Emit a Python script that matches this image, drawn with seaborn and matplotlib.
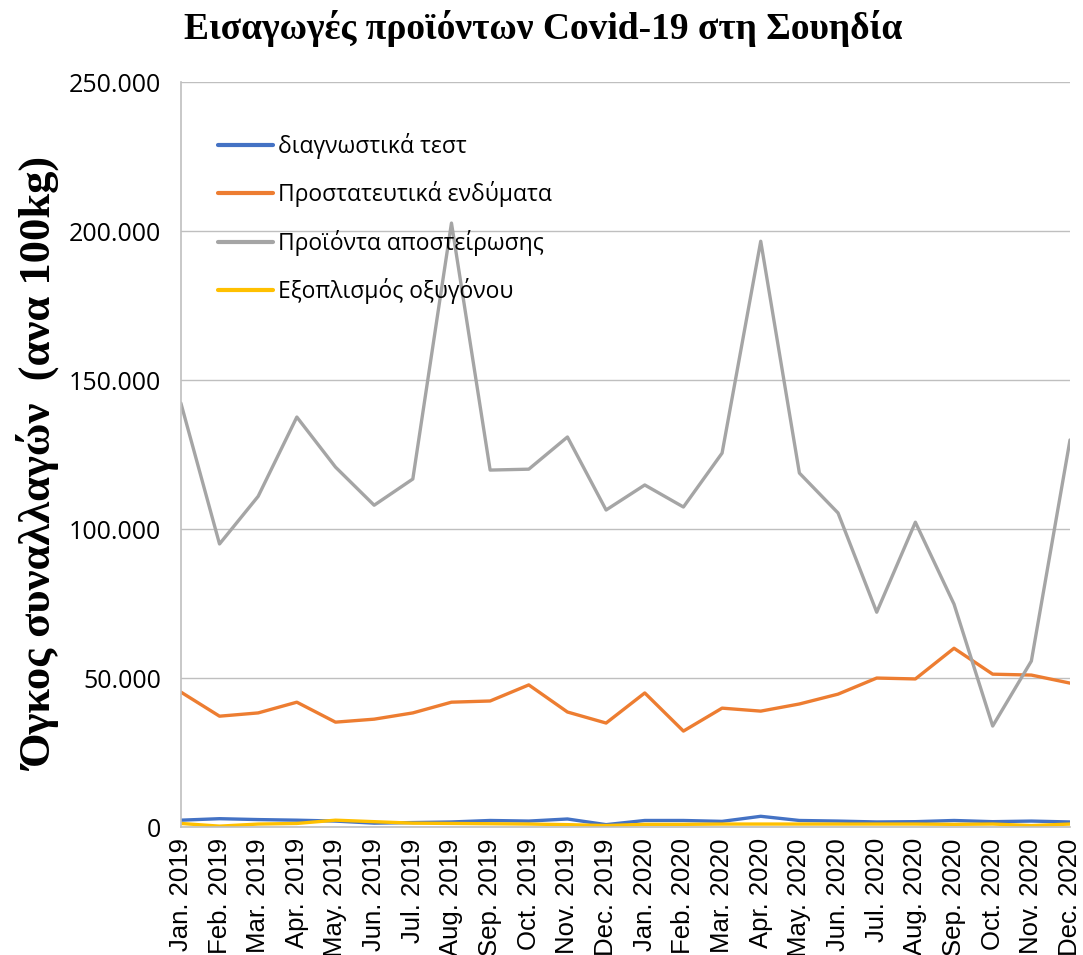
import pandas as pd
import matplotlib.pyplot as plt
import matplotlib.ticker as mticker
import seaborn as sns

months = ["Jan. 2019", "Feb. 2019", "Mar. 2019", "Apr. 2019", "May. 2019", "Jun. 2019",
          "Jul. 2019", "Aug. 2019", "Sep. 2019", "Oct. 2019", "Nov. 2019", "Dec. 2019",
          "Jan. 2020", "Feb. 2020", "Mar. 2020", "Apr. 2020", "May. 2020", "Jun. 2020",
          "Jul. 2020", "Aug. 2020", "Sep. 2020", "Oct. 2020", "Nov. 2020", "Dec. 2020"]

tests = [2300, 2800, 2500, 2300, 2000, 1300, 1500, 1700, 2200, 2000, 2700, 800,
         2200, 2200, 1900, 3600, 2200, 2000, 1700, 1800, 2200, 1800, 2000, 1700]
protective = [45300, 37200, 38300, 41900, 35200, 36200, 38300, 41900, 42300, 47700, 38600, 34900,
              45000, 32200, 39900, 38900, 41300, 44600, 50000, 49700, 60000, 51300, 51000, 48300]
sterilisation = [142300, 95000, 111000, 137600, 120800, 108000, 116800, 202700, 119800, 120100, 130900, 106400,
                 114800, 107400, 125500, 196600, 118800, 105400, 72100, 102300, 74800, 33900, 55700, 129900]
oxygen = [1200, 300, 1000, 1200, 2300, 1800, 1300, 1200, 1100, 1000, 800, 500,
          900, 900, 1000, 1000, 1000, 1000, 1000, 1000, 900, 1000, 500, 1000]

series = ["διαγνωστικά τεστ", "Προστατευτικά ενδύματα", "Προϊόντα αποστείρωσης", "Εξοπλισμός οξυγόνου"]
colors = ["#4472C4", "#ED7D31", "#A5A5A5", "#FFC000"]

df = pd.DataFrame({"Μήνας": months * 4,
                   "idx": list(range(len(months))) * 4,
                   "Σειρά": [s for s in series for _ in months],
                   "Τιμή": tests + protective + sterilisation + oxygen})

sns.set_style("white")
plt.rcParams["text.color"] = "black"
fig = plt.figure(figsize=(10.83, 9.55), dpi=100)
ax = fig.add_axes([0.167, 0.134, 0.821, 0.780])

sns.lineplot(data=df, x="idx", y="Τιμή", hue="Σειρά", hue_order=series,
             palette=colors, linewidth=2.4, ax=ax, sort=False)

ax.set_xlim(0, len(months) - 1)
ax.set_ylim(0, 250000)
ax.set_yticks(range(0, 250001, 50000))
ax.yaxis.set_major_formatter(mticker.FuncFormatter(lambda v, p: f"{int(v):,}".replace(",", ".")))
ax.set_xticks(range(len(months)))
ax.set_xticklabels(months, rotation=90)
ax.tick_params(axis="both", length=0, labelcolor="black")
ax.tick_params(axis="y", pad=14)
ax.tick_params(axis="x", pad=8)
for lbl in ax.get_yticklabels():
    lbl.set_family("Open Sans")
    lbl.set_fontsize(18)
for lbl in ax.get_xticklabels():
    lbl.set_family("Liberation Sans")
    lbl.set_fontsize(18.5)

ax.grid(axis="y", color="#BFBFBF", linewidth=1)
ax.set_axisbelow(True)
for side in ["top", "right"]:
    ax.spines[side].set_visible(False)
for side in ["left", "bottom"]:
    ax.spines[side].set_color("#BFBFBF")
    ax.spines[side].set_linewidth(1.2)

ax.set_xlabel("")
ax.set_ylabel("Όγκος συναλλαγών  (ανα 100kg)", family="Liberation Serif",
              fontsize=32, fontweight="bold", color="black")
ax.yaxis.set_label_coords(-0.134, 0.487)

fig.suptitle("Εισαγωγές προϊόντων Covid-19 στη Σουηδία", family="Liberation Serif",
             fontsize=27, fontweight="bold", x=0.502, y=0.99, color="black")

leg = ax.legend(loc="upper left", bbox_to_anchor=(0.042, 0.932), frameon=False,
                borderaxespad=0, borderpad=0,
                prop={"family": "Open Sans", "size": 16.5}, handlelength=2.4,
                labelspacing=0.98, handletextpad=0.2)
for line in leg.get_lines():
    line.set_linewidth(3)

fig.savefig("out.png", dpi=100)
